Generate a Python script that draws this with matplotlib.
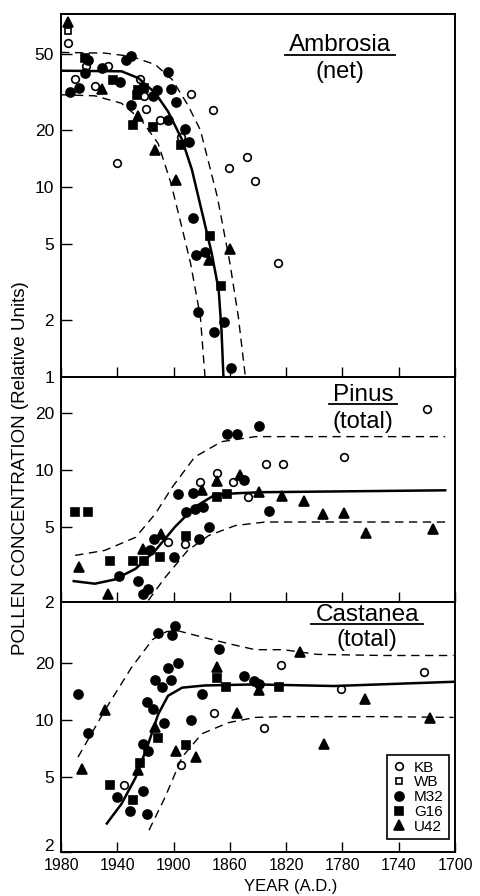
import matplotlib
matplotlib.use("Agg")
import matplotlib.pyplot as plt
from matplotlib.ticker import NullLocator
from matplotlib.transforms import ScaledTranslation

plt.rcParams['font.family'] = ['Liberation Sans', 'DejaVu Sans']

# ---- data: (year A.D., concentration) ----
x_ticks = [1980, 1940, 1900, 1860, 1820, 1780, 1740, 1700]

# Ambrosia (net)
amb_kb = [(1975, 57), (1970, 37), (1962, 43), (1956, 34), (1947, 43), (1940, 13.4),
          (1924, 37), (1921, 30), (1920, 25.7), (1910, 22.4), (1895, 18.2), (1888, 30.6),
          (1872, 25.4), (1861, 12.5), (1848, 14.4), (1842, 10.7), (1826, 4.0)]
amb_wb = [(1975, 66)]
amb_m32 = [(1974, 31.7), (1967, 33), (1961, 46.6), (1963, 39.7), (1951, 42.2), (1938, 35.8),
           (1934, 46.6), (1930, 48.5), (1915, 30), (1912, 32.4), (1930, 27), (1904, 40.4),
           (1902, 32.7), (1898, 27.8), (1904, 22.5), (1892, 20.1), (1889, 17.2), (1886, 6.85),
           (1884, 4.4), (1878, 4.56), (1883, 2.2), (1864, 1.95), (1871, 1.73), (1859, 1.12)]
amb_g16 = [(1963, 47.6), (1943, 36.6), (1925, 32.4), (1921, 33), (1926, 30.5), (1929, 21.2),
           (1915, 20.6), (1895, 16.6), (1874, 5.5), (1866, 3.0)]
amb_u42 = [(1975, 74), (1951, 32.8), (1925, 23.5), (1913, 15.7), (1898, 10.8), (1860, 4.7),
           (1875, 4.1)]
amb_fit = [(1980, 40.8), (1937, 40.5), (1925, 37.3), (1913, 31.1), (1904, 24.9), (1894, 17.7),
           (1887, 12.3), (1881, 8.0), (1873, 4.5), (1868, 2.87), (1866, 1.77), (1864.6, 1.0)]
amb_hi = [(1980, 50.9), (1949, 50.5), (1930, 48.5), (1913, 43.9), (1901, 36.6), (1890, 27),
          (1881, 19.9), (1869, 8.9), (1860, 3.97), (1854, 2.07), (1849, 1.0)]
amb_lo = [(1980, 30.5), (1956, 30.1), (1937, 27.5), (1923, 22.5), (1911, 16.9), (1902, 10.5),
          (1895, 6.5), (1888, 3.97), (1881, 2.07), (1877.7, 1.0)]

# Pinus (total)
pin_kb = [(1904, 4.15), (1892, 4.07), (1881, 8.6), (1869, 9.6), (1858, 8.6), (1847, 7.2),
          (1834, 10.8), (1822, 10.7), (1779, 11.7), (1720, 20.9)]
pin_wb = []
pin_m32 = [(1939, 2.73), (1925, 2.58), (1922, 2.2), (1918, 2.35), (1917, 3.75), (1914, 4.32),
           (1900, 3.47), (1897, 7.48), (1891, 6.0), (1886, 7.52), (1885, 6.23), (1879, 6.36),
           (1882, 4.32), (1875, 5.0), (1850, 8.8), (1862, 15.5), (1855, 15.5), (1839, 17.0),
           (1832, 6.06)]
pin_g16 = [(1970, 6.0), (1961, 6.0), (1945, 3.3), (1929, 3.3), (1921, 3.3), (1910, 3.47),
           (1891, 4.45), (1869, 7.19), (1862, 7.44)]
pin_u42 = [(1967, 3.06), (1947, 2.21), (1922, 3.83), (1909, 4.6), (1880, 7.81), (1869, 8.72),
           (1853, 9.36), (1839, 7.62), (1823, 7.24), (1807, 6.83), (1794, 5.86), (1779, 5.9),
           (1763, 4.63), (1716, 4.88)]
pin_fit = [(1971, 2.58), (1956, 2.5), (1942, 2.63), (1927, 3.0), (1913, 3.75), (1899, 5.0),
           (1885, 6.36), (1871, 7.36), (1856, 7.52), (1838, 7.62), (1707, 7.8)]
pin_hi = [(1970, 3.53), (1949, 3.75), (1927, 4.4), (1913, 5.86), (1901, 8.1), (1885, 11.7),
          (1866, 14.1), (1842, 15.0), (1707, 15.0)]
pin_lo = [(1918, 2.04), (1906, 2.7), (1890, 3.75), (1875, 4.5), (1856, 5.08), (1835, 5.3),
          (1707, 5.3)]

# Castanea (total)
cas_kb = [(1935, 4.5), (1895, 5.8), (1871, 10.9), (1836, 9.05), (1824, 19.6), (1781, 14.5),
          (1722, 17.9)]
cas_wb = []
cas_m32 = [(1968, 13.7), (1961, 8.5), (1940, 3.93), (1931, 3.3), (1922, 4.2), (1919, 3.19),
           (1922, 7.47), (1918, 6.86), (1919, 12.5), (1915, 11.4), (1907, 9.6), (1913, 16.2),
           (1908, 14.9), (1902, 16.2), (1904, 18.7), (1897, 20.1), (1911, 28.7), (1901, 28.0),
           (1899, 31.3), (1888, 10.0), (1880, 13.7), (1868, 23.8), (1850, 17.0), (1843, 16.1),
           (1839, 15.4)]
cas_g16 = [(1945, 4.54), (1929, 3.79), (1924, 5.9), (1911, 8.0), (1891, 7.4), (1869, 16.6),
           (1863, 14.9), (1825, 14.9)]
cas_u42 = [(1965, 5.47), (1949, 11.3), (1925, 5.45), (1913, 9.15), (1898, 6.86), (1884, 6.4),
           (1869, 19.1), (1855, 10.9), (1839, 14.3), (1810, 22.9), (1793, 7.47), (1764, 12.9),
           (1718, 10.2)]
cas_fit = [(1947.5, 2.83), (1937, 3.6), (1927, 4.96), (1918, 7.47), (1911, 10.7), (1904, 13.4),
           (1894, 14.8), (1878, 15.2), (1842, 15.4), (1786, 15.1), (1701, 15.9)]
cas_hi = [(1968, 6.35), (1949, 11.2), (1930, 18.9), (1915, 26.6), (1905, 29.3), (1897, 29.6),
          (1878, 27.2), (1859, 25.1), (1842, 23.5), (1822, 23.5), (1798, 22.2), (1751, 21.9),
          (1701, 21.9)]
cas_lo = [(1917.5, 2.61), (1906, 3.91), (1894, 6.35), (1880, 8.44), (1861, 9.67), (1842, 10.3),
          (1822, 10.4), (1751, 10.4), (1701, 10.3)]

SITE_STYLE = {
    "KB": dict(marker='o', mfc='white', ms=5.5),
    "WB": dict(marker='s', mfc='white', ms=5),
    "M32": dict(marker='o', mfc='black', ms=6.5),
    "G16": dict(marker='s', mfc='black', ms=6),
    "U42": dict(marker='^', mfc='black', ms=6.5),
}


def draw_panel(ax, sites, fit, hi, lo, ylim, yticks):
    for site, pts in sites.items():
        if not pts:
            continue
        x, y = zip(*pts)
        ax.plot(x, y, ls='none', color='black', mec='black', mew=1.2, label=site,
                **SITE_STYLE[site])
    for curve, ls, lw in ((fit, '-', 1.8), (hi, (0, (6, 4)), 1.0), (lo, (0, (6, 4)), 1.0)):
        x, y = zip(*curve)
        ax.plot(x, y, color='black', ls=ls, lw=lw)
    ax.set_yscale('log')
    ax.set_ylim(*ylim)
    ax.set_yticks(yticks, labels=[str(t) for t in yticks])
    ax.yaxis.set_minor_locator(NullLocator())
    ax.set_xlim(1980, 1700)
    ax.set_xticks(x_ticks)
    ax.xaxis.set_minor_locator(NullLocator())
    ax.tick_params(axis='y', direction='in', length=8, width=1, labelsize=12.5, pad=5)
    ax.tick_params(axis='x', direction='in', length=7, width=1, labelsize=11.5, pad=4)
    for s in ax.spines.values():
        s.set_linewidth(1.4)


def panel_title(ax, name, sub, x, y_name, y_sub):
    t = ax.text(x, y_name, name, transform=ax.transAxes, ha='center', va='baseline',
                fontsize=17.5)
    ax.text(x, y_sub, sub, transform=ax.transAxes, ha='center', va='center', fontsize=17)
    ax.figure.canvas.draw()
    bb = t.get_window_extent().transformed(ax.transAxes.inverted())
    ax.plot([bb.x0 - 0.01, bb.x1 + 0.01], [y_name - 0.012, y_name - 0.012], color='black',
            lw=1.3, transform=ax.transAxes, clip_on=False)


fig = plt.figure(figsize=(4.81, 8.96), dpi=100)
ax1 = fig.add_axes([0.127, 0.5792, 0.819, 0.4051])
ax2 = fig.add_axes([0.127, 0.3281, 0.819, 0.2511], sharex=ax1)
ax3 = fig.add_axes([0.127, 0.0491, 0.819, 0.2790], sharex=ax1)

draw_panel(ax1, {"KB": amb_kb, "WB": amb_wb, "M32": amb_m32, "G16": amb_g16, "U42": amb_u42},
           amb_fit, amb_hi, amb_lo, (1, 81), [1, 2, 5, 10, 20, 50])
draw_panel(ax2, {"KB": pin_kb, "WB": pin_wb, "M32": pin_m32, "G16": pin_g16, "U42": pin_u42},
           pin_fit, pin_hi, pin_lo, (2, 31), [2, 5, 10, 20])
draw_panel(ax3, {"KB": cas_kb, "WB": cas_wb, "M32": cas_m32, "G16": cas_g16, "U42": cas_u42},
           cas_fit, cas_hi, cas_lo, (2, 42), [2, 5, 10, 20])

ax1.tick_params(axis='x', labelbottom=False)
ax2.tick_params(axis='x', labelbottom=False)

# lift the lowest "2" so it sits above the year labels, as in the original
lift = ScaledTranslation(0, 5 / 72, fig.dpi_scale_trans)
low_lbl = ax3.get_yticklabels()[0]
low_lbl.set_transform(low_lbl.get_transform() + lift)

panel_title(ax1, "Ambrosia", "(net)", 0.709, 0.898, 0.840)
panel_title(ax2, "Pinus", "(total)", 0.767, 0.893, 0.800)
panel_title(ax3, "Castanea", "(total)", 0.777, 0.924, 0.848)

# legend with all five site symbols
handles = [plt.Line2D([], [], ls='none', color='black', mec='black', mew=1.2, **SITE_STYLE[s])
           for s in ["KB", "WB", "M32", "G16", "U42"]]
leg = ax3.legend(handles, ["KB", "WB", "M32", "G16", "U42"], loc='lower right',
                 bbox_to_anchor=(0.985, 0.052), borderaxespad=0, fancybox=False,
                 edgecolor='black', framealpha=1, fontsize=11, handlelength=0.8,
                 handletextpad=0.6, labelspacing=0.05, borderpad=0.35)
leg.get_frame().set_linewidth(1.2)

fig.text(0.042, 1 - 468 / 896, "POLLEN CONCENTRATION (Relative Units)", rotation=90,
         ha='center', va='center', fontsize=13.5)
fig.text(291 / 481, 1 - 886 / 896, "YEAR (A.D.)", ha='center', va='center', fontsize=12)

fig.savefig("out.png", dpi=100)
